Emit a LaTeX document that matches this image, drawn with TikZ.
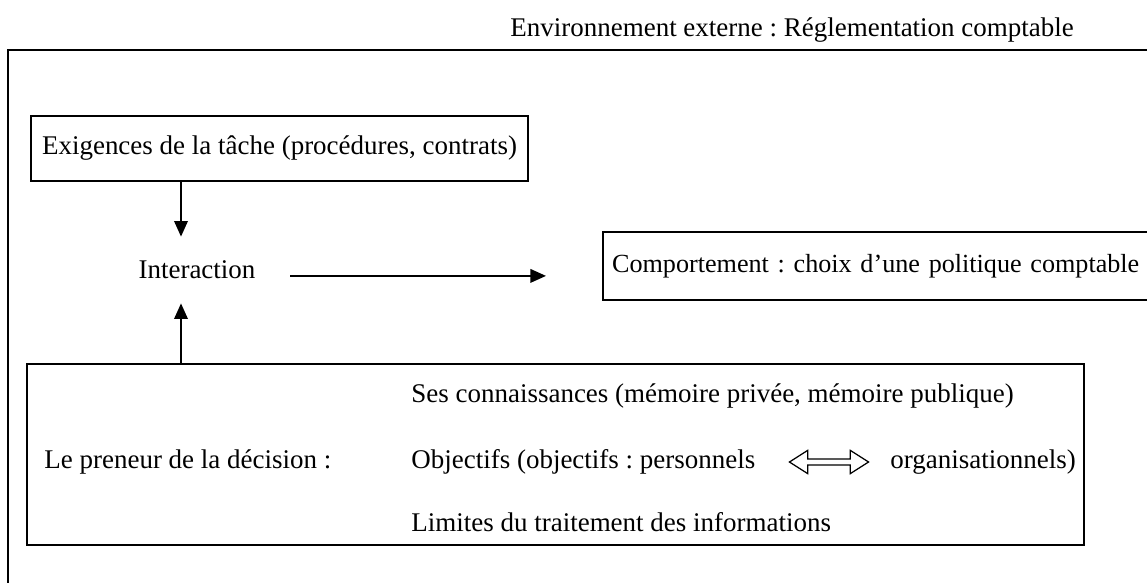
\documentclass[tikz,border=0pt]{standalone}
\usepackage{fontspec}
\setmainfont{Liberation Serif}
\frenchspacing
\usetikzlibrary{arrows.meta,positioning,shapes.arrows}

\begin{document}
\begin{tikzpicture}[x=0.01693cm,y=-0.01693cm,
  every node/.style={font=\fontsize{13}{15}\selectfont, inner sep=0pt},
  boite/.style={draw, line width=1.1pt},
  fleche/.style={line width=0.9pt, -{Triangle[length=7.5pt,width=6.5pt]}}]
  \clip (0,0) rectangle (1147,583);

  % Cadre exterieur
  \draw[line width=0.6pt] (8,50) rectangle (1170,610);
  \node[anchor=west] (titre) at (510,30) {Environnement externe : Réglementation comptable};

  % Exigences et interaction
  \node[boite, minimum width=8.41cm, minimum height=1.10cm] (exig) at (279.5,148.5) {Exigences de la tâche (procédures, contrats)};
  \node[minimum width=3.15cm, minimum height=1.117cm] (inter) at (197,270) {Interaction};

  % Comportement
  \node[boite, anchor=west, minimum height=1.151cm, inner xsep=0.152cm, text width=9.5cm, align=left, font=\fontsize{12.6}{15}\selectfont] (comp) at (602,266) {Comportement : choix d’une politique comptable};

  % Preneur de la decision
  \node[boite, minimum width=17.895cm, minimum height=3.064cm] (decideur) at (555.5,454.5) {};
  \node[anchor=west] (preneur) at (44,462) {Le preneur de la décision :};
  \node[anchor=west] (connais) at (411,396) {Ses connaissances (mémoire privée, mémoire publique)};
  \node[anchor=west] (objectifs) at (411,462) {Objectifs (objectifs : personnels};
  \node[double arrow, draw, line width=0.6pt, minimum height=1.34cm, double arrow head extend=0.144cm, double arrow tip angle=65, inner sep=0.042cm] (dbl) at (829,462) {};
  \node[anchor=west] (organis) at (890,462) {organisationnels)};
  \node[anchor=west] (limites) at (411,522) {Limites du traitement des informations};

  % Fleches
  \coordinate (axe) at (181,0);
  \draw[fleche] (axe |- exig.south) -- (axe |- inter.north);
  \draw[fleche] (axe |- decideur.north) -- (axe |- inter.south);
  \draw[fleche, shorten >=0.948cm] ([yshift=-0.1cm]inter.east) -- ([yshift=-0.1cm]inter.east -| comp.west);
\end{tikzpicture}
\end{document}
